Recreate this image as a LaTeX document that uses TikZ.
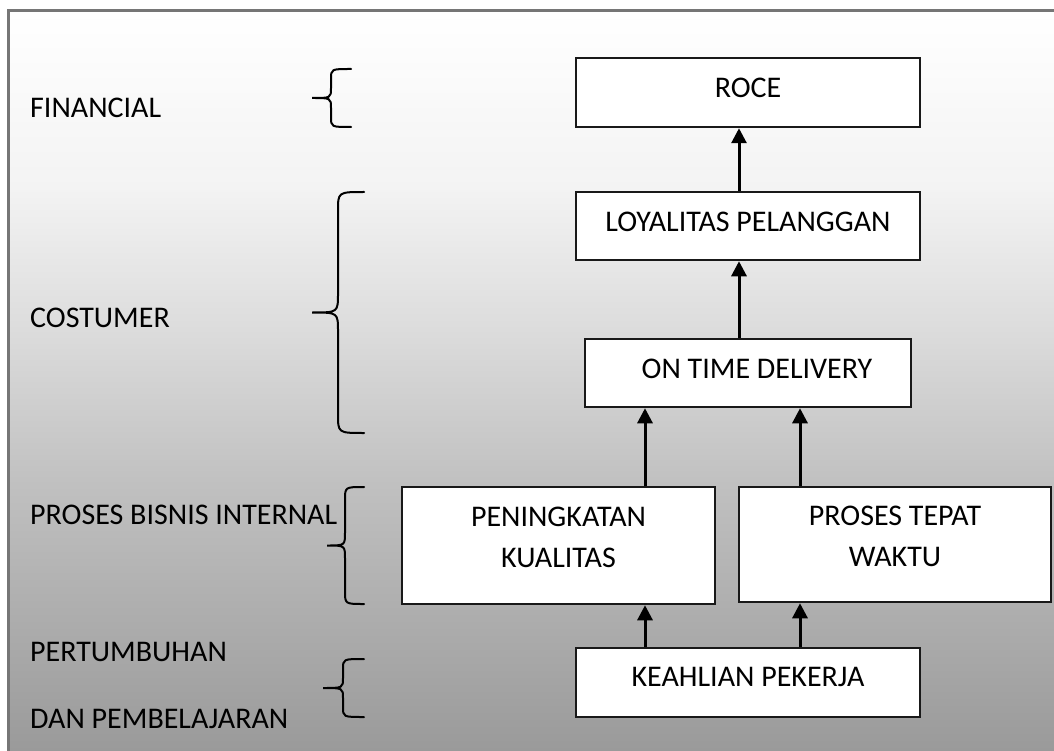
\documentclass[tikz,border=0pt]{standalone}
\usepackage{fontspec}
\setmainfont{Carlito}
\usetikzlibrary{arrows.meta}

\definecolor{shadeA}{RGB}{154,154,154}
\definecolor{shadeB}{RGB}{192,192,192}
\definecolor{shadeC}{RGB}{220,220,220}
\definecolor{shadeD}{RGB}{243,243,243}
\definecolor{shadeE}{RGB}{255,255,255}
\definecolor{framegray}{RGB}{118,118,118}
\definecolor{boxline}{RGB}{25,25,25}

% soft white-to-grey fade behind the whole chart
\pgfdeclareverticalshading{bgfade}{100bp}{%
  color(0bp)=(shadeA); color(25bp)=(shadeA); color(43bp)=(shadeB);
  color(53.5bp)=(shadeC); color(63bp)=(shadeD); color(75bp)=(shadeE);
  color(100bp)=(shadeE)}

% curly brace: right end x, stem x, tip x, top y, bottom y, corner size
\newcommand\wbrace[6]{%
  \pgfmathsetmacro\bmid{(#4+#5)/2}%
  \draw[bracestyle] (#1,#4) .. controls (#2,#4) .. (#2,{#4+#6})
    -- (#2,{\bmid-#6}) .. controls (#2,\bmid) .. (#3,\bmid)
    .. controls (#2,\bmid) .. (#2,{\bmid+#6})
    -- (#2,{#5-#6}) .. controls (#2,#5) .. (#1,#5);}

% extra depth under the last line of a two-line box, lifting its text
\newcommand\liftby[1]{\rule[-#1]{0pt}{#1}}

\begin{document}
\begin{tikzpicture}[x=1pt,y=-1pt,
  every node/.style={font=\fontsize{30}{41}\selectfont},
  box/.style={draw=boxline, fill=white, line width=2.5pt, inner sep=0pt, rectangle},
  oneline/.style={box, text height=19.5pt},
  arr/.style={line width=3pt, draw=black, -{Triangle[length=15pt,width=15pt]}},
  bracestyle/.style={line width=2pt, draw=black, line cap=round},
  side/.style={anchor=base west, inner sep=0pt}]
\useasboundingbox (0,0) rectangle (1054,751);

% background and frame
\shade[shading=bgfade] (8.5,11) rectangle (1054,751);
\draw[framegray, line width=3pt] (8.5,751) -- (8.5,11) -- (1054,11);

% perspective labels
\node[side] (lfin) at (30,118) {FINANCIAL};
\node[side] (lcus) at (30,327) {COSTUMER};
\node[side] (lpro) at (30,524) {PROSES BISNIS INTERNAL};
\node[side] (lgr1) at (30,661) {PERTUMBUHAN};
\node[side] (lgr2) at (30,728) {DAN PEMBELAJARAN};

% braces
\wbrace{351}{331}{312}{69}{127}{10}
\wbrace{364}{338}{312}{192}{433}{19}
\wbrace{364}{345}{327}{487}{604}{13}
\wbrace{364}{343}{323}{659}{717}{10}

% strategy map boxes
\node[oneline, minimum width=344pt, minimum height=69pt, text depth=10pt] (roce) at (748,92.5) {ROCE};
\node[oneline, minimum width=344pt, minimum height=68pt, text depth=8pt] (loyal) at (748,226) {LOYALITAS PELANGGAN};
\node[oneline, minimum width=326pt, minimum height=68pt, text depth=9pt] (ontime) at (748,373) {\hspace*{18pt}ON TIME DELIVERY};
\node[box, align=center, minimum width=313pt, minimum height=117pt] (kual) at (558.5,545.5) {PENINGKATAN\\KUALITAS\liftby{16pt}};
\node[box, align=center, minimum width=312pt, minimum height=115pt] (tepat) at (895,544.5) {PROSES TEPAT\\WAKTU\liftby{16pt}};
\node[oneline, minimum width=344pt, minimum height=69pt, text depth=12pt] (skill) at (748,682.5) {KEAHLIAN PEKERJA};

% arrow columns
\coordinate (colA) at (645,0);
\coordinate (colB) at (800,0);
\coordinate (colC) at (739,0);

\draw[arr] (loyal.north -| colC) -- (roce.south -| colC);
\draw[arr] (ontime.north -| colC) -- (loyal.south -| colC);
\draw[arr] (kual.north -| colA) -- (ontime.south -| colA);
\draw[arr] (tepat.north -| colB) -- (ontime.south -| colB);
\draw[arr] (skill.north -| colA) -- (kual.south -| colA);
\draw[arr] (skill.north -| colB) -- (tepat.south -| colB);
\end{tikzpicture}
\end{document}
